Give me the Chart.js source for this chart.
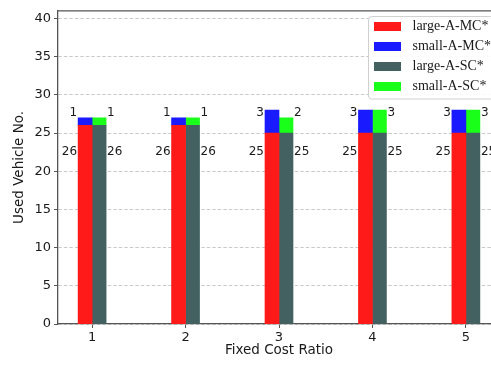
<!DOCTYPE html>
<html>
<head>
<meta charset="utf-8">
<script src="https://cdn.jsdelivr.net/npm/chart.js@4/dist/chart.umd.min.js"></script>
<style>
  html, body { margin: 0; padding: 0; background: #fff; overflow: hidden; }
  canvas { display: block; }
</style>
</head>
<body>
<canvas id="c" width="505" height="365"></canvas>
<script>
// Fixed cost ratios on the x axis
const categories = [1, 2, 3, 4, 5];
// Vehicles used by the multi-compartment (MC) fleet
const largeMC = [26, 26, 25, 25, 25];
const smallMC = [1, 1, 3, 3, 3];
// Vehicles used by the single-compartment (SC) fleet
const largeSC = [26, 26, 25, 25, 25];
const smallSC = [1, 1, 2, 3, 3];
const yTicks = [0, 5, 10, 15, 20, 25, 30, 35, 40];
const seriesNames = ['large-A-MC*', 'small-A-MC*', 'large-A-SC*', 'small-A-SC*'];

const colors = ['#ff1a1a', '#1a1aff', '#446161', '#1aff1a'];
const tickFont = { family: 'DejaVu Sans', size: 13 };
const textColor = '#1a1a1a';
const spineColor = '#555555';

const pts = arr => categories.map((c, i) => ({ x: c, y: arr[i] }));

const datasets = [
  { label: seriesNames[0], data: pts(largeMC), stack: 'MC', backgroundColor: colors[0] },
  { label: seriesNames[1], data: pts(smallMC), stack: 'MC', backgroundColor: colors[1] },
  { label: seriesNames[2], data: pts(largeSC), stack: 'SC', backgroundColor: colors[2] },
  { label: seriesNames[3], data: pts(smallSC), stack: 'SC', backgroundColor: colors[3] }
];

// Value labels beside each stack: large count mid-height, small count near the top
const barLabels = {
  id: 'barLabels',
  afterDatasetsDraw(chart) {
    const ctx = chart.ctx;
    const y = chart.scales.y;
    ctx.save();
    ctx.font = '12px "DejaVu Sans"';
    ctx.fillStyle = textColor;
    ctx.textBaseline = 'middle';
    categories.forEach((c, i) => {
      const mc = chart.getDatasetMeta(0).data[i];
      const sc = chart.getDatasetMeta(2).data[i];
      const leftX = mc.x - mc.width / 2 - 1;
      const rightX = sc.x + sc.width / 2 + 1;
      ctx.textAlign = 'right';
      ctx.fillText(String(largeMC[i]), leftX, y.getPixelForValue(22.5));
      ctx.fillText(String(smallMC[i]), leftX, y.getPixelForValue(27.7));
      ctx.textAlign = 'left';
      ctx.fillText(String(largeSC[i]), rightX, y.getPixelForValue(22.5));
      ctx.fillText(String(smallSC[i]), rightX, y.getPixelForValue(27.7));
    });
    ctx.restore();
  }
};

// Frame lines and the boxed legend in the upper right corner
const frameAndLegend = {
  id: 'frameAndLegend',
  afterDraw(chart) {
    const ctx = chart.ctx;
    const a = chart.chartArea;
    ctx.save();
    ctx.strokeStyle = spineColor;
    ctx.lineWidth = 1.3;
    ctx.beginPath();
    ctx.moveTo(a.left, a.top);
    ctx.lineTo(a.right, a.top);
    ctx.lineTo(a.right, a.bottom);
    ctx.stroke();

    const bx = 368.5, by = 16.5, bw = 125, bh = 82.5, r = 3;
    ctx.beginPath();
    ctx.roundRect(bx, by, bw, bh, r);
    ctx.fillStyle = 'rgba(255,255,255,0.9)';
    ctx.fill();
    ctx.strokeStyle = '#d0d0d0';
    ctx.lineWidth = 1;
    ctx.stroke();

    ctx.font = '14px "Liberation Serif"';
    ctx.textAlign = 'left';
    ctx.textBaseline = 'middle';
    chart.data.datasets.forEach((ds, k) => {
      const cy = 26.5 + k * 20;
      ctx.fillStyle = ds.backgroundColor;
      ctx.fillRect(374, cy - 4.5, 27, 9);
      ctx.fillStyle = textColor;
      ctx.fillText(ds.label, 412.5, cy);
    });
    ctx.restore();
  }
};

new Chart(document.getElementById('c'), {
  type: 'bar',
  data: { datasets },
  plugins: [barLabels, frameAndLegend],
  options: {
    responsive: false,
    devicePixelRatio: 1,
    animation: false,
    layout: { padding: { top: 10, right: 5, left: 0, bottom: 0 } },
    datasets: { bar: { barThickness: 14, borderWidth: 0 } },
    plugins: { legend: { display: false }, tooltip: { enabled: false } },
    scales: {
      x: {
        type: 'linear',
        offset: false,
        min: 0.635,
        max: 5.365,
        afterBuildTicks: s => { s.ticks = categories.map(v => ({ value: v })); },
        afterFit: s => { s.height = 41; },
        ticks: { callback: v => String(v), font: tickFont, color: textColor, padding: 2, maxRotation: 0, autoSkip: false },
        grid: { display: true, offset: false, drawOnChartArea: false, drawTicks: true, tickLength: 4, tickColor: spineColor, tickWidth: 1, tickBorderDash: [] },
        border: { display: true, color: spineColor, width: 1.3 },
        title: { display: true, text: 'Fixed Cost Ratio', font: { family: 'DejaVu Sans', size: 13.5 }, color: textColor, padding: { top: 0, bottom: 6.5 } }
      },
      y: {
        stacked: true,
        min: 0,
        max: 41,
        afterBuildTicks: s => { s.ticks = yTicks.map(v => ({ value: v })); },
        afterFit: s => { s.width = 58; },
        ticks: { font: tickFont, color: textColor, padding: 3 },
        grid: { display: true, drawOnChartArea: true, color: '#c4c4c4', lineWidth: 0.9, drawTicks: true, tickLength: 4, tickColor: spineColor, tickWidth: 1, tickBorderDash: [] },
        border: { display: true, color: spineColor, width: 1.3, dash: [3.5, 2] },
        title: { display: true, text: 'Used Vehicle No.', font: { family: 'DejaVu Sans', size: 13.5 }, color: textColor, padding: { top: 11, bottom: 0 } }
      }
    }
  }
});
</script>
</body>
</html>
